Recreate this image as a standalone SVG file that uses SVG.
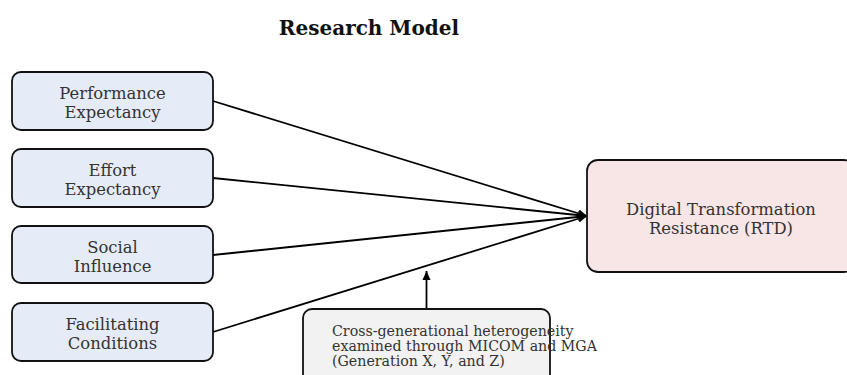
<svg xmlns="http://www.w3.org/2000/svg" width="847" height="375" viewBox="0 0 847 375">
<defs>
<style>
.t{font-family:"DejaVu Serif",serif;font-size:16.4px;fill:#333;}
.s{font-family:"DejaVu Serif",serif;font-size:14.2px;fill:#333;}
.title{font-family:"DejaVu Serif",serif;font-size:20px;font-weight:bold;fill:#111;}
.box{stroke:#111;stroke-width:1.8;}
.in{fill:#E6ECF7;}
.out{fill:#F8E5E6;}
.mod{fill:#F2F2F2;}
.edge{stroke:#000;stroke-width:1.8;fill:none;}
</style>
<marker id="ah" viewBox="0 0 10 10" refX="10" refY="5" markerWidth="5" markerHeight="5" orient="auto" markerUnits="strokeWidth">
<path d="M0,0.5 L10,5 L0,9.5 z" fill="#000"/>
</marker>
</defs>
<rect width="847" height="375" fill="#fff"/>
<text class="title" x="369" y="35" text-anchor="middle">Research Model</text>
<g id="connectors">
<line class="edge" x1="213" y1="101" x2="587" y2="216" marker-end="url(#ah)"/>
<line class="edge" x1="213" y1="178" x2="587" y2="216" marker-end="url(#ah)"/>
<line class="edge" x1="213" y1="255" x2="587" y2="216" marker-end="url(#ah)"/>
<line class="edge" x1="213" y1="332" x2="587" y2="216" marker-end="url(#ah)"/>
<line class="edge" x1="426.5" y1="309" x2="426.5" y2="271" marker-end="url(#ah)"/>
</g>
<g id="pe">
<rect class="box in" x="12" y="72" width="201" height="58" rx="9"/>
<text class="t" x="112.5" y="99" text-anchor="middle">Performance</text>
<text class="t" x="112.5" y="118" text-anchor="middle">Expectancy</text>
</g>
<g id="ee">
<rect class="box in" x="12" y="149" width="201" height="58" rx="9"/>
<text class="t" x="112.5" y="176" text-anchor="middle">Effort</text>
<text class="t" x="112.5" y="195" text-anchor="middle">Expectancy</text>
</g>
<g id="si">
<rect class="box in" x="12" y="226" width="201" height="57" rx="9"/>
<text class="t" x="112.5" y="253" text-anchor="middle">Social</text>
<text class="t" x="112.5" y="272" text-anchor="middle">Influence</text>
</g>
<g id="fc">
<rect class="box in" x="12" y="303" width="201" height="58" rx="9"/>
<text class="t" x="112.5" y="330" text-anchor="middle">Facilitating</text>
<text class="t" x="112.5" y="349" text-anchor="middle">Conditions</text>
</g>
<g id="rtd">
<rect class="box out" x="587" y="160" width="268" height="112" rx="11"/>
<text class="t" x="721" y="215" text-anchor="middle">Digital Transformation</text>
<text class="t" x="721" y="234" text-anchor="middle">Resistance (RTD)</text>
</g>
<g id="moderator">
<rect class="box mod" x="303" y="309" width="247" height="80" rx="9"/>
<text class="s" x="332" y="336">Cross-generational heterogeneity</text>
<text class="s" x="332" y="351">examined through MICOM and MGA</text>
<text class="s" x="332" y="366">(Generation X, Y, and Z)</text>
</g>
</svg>
